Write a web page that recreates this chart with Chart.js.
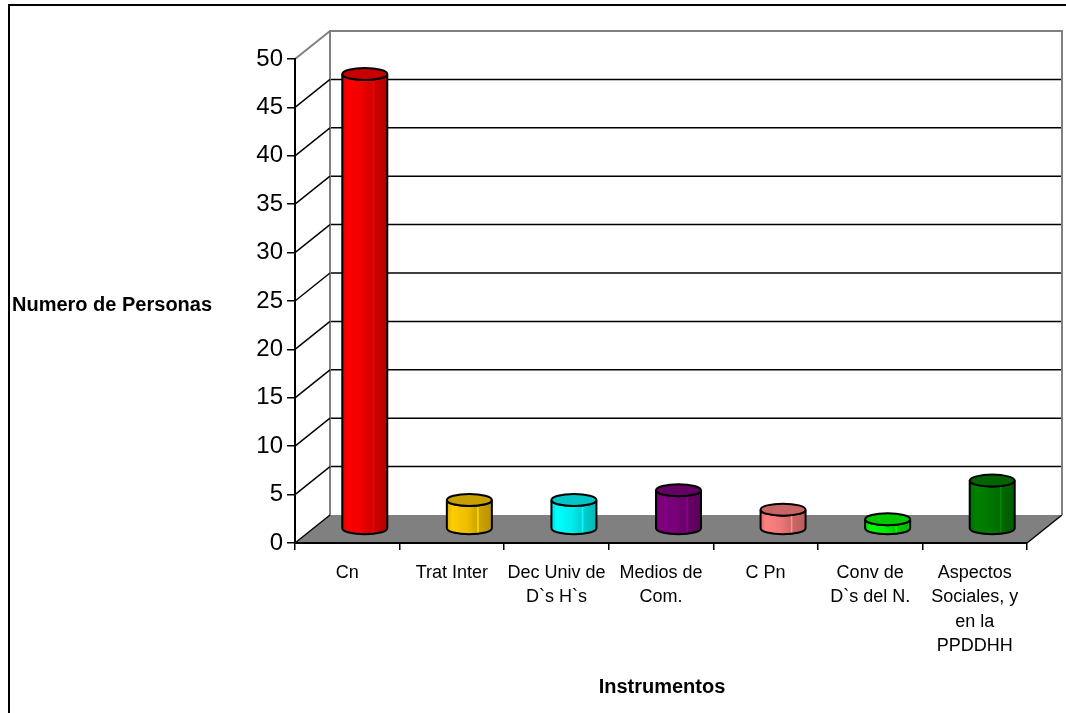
<!DOCTYPE html>
<html>
<head>
<meta charset="utf-8">
<title>Instrumentos</title>
<script src="https://cdn.jsdelivr.net/npm/chart.js@4.4.0/dist/chart.umd.min.js"></script>
<style>
    html, body { margin: 0; padding: 0; background: #fff; }
    #wrap { width: 1066px; height: 713px; }
</style>
</head>
<body>
<div id="wrap"><canvas id="myChart" width="1066" height="713"></canvas></div>
<script>
// categories and values
const categories = [
    'Cn',
    'Trat Inter',
    ['Dec Univ de', 'D`s H`s'],
    ['Medios de', 'Com.'],
    'C Pn',
    ['Conv de', 'D`s del N.'],
    ['Aspectos', 'Sociales, y', 'en la', 'PPDDHH']
];
const personas = [47, 3, 3, 4, 2, 1, 5];
const yTicks = [0, 5, 10, 15, 20, 25, 30, 35, 40, 45, 50];
const barColors = ['#FF0000', '#FFCC00', '#00FFFF', '#800080', '#FF8080', '#00FF00', '#008000'];

const yTitle = 'Numero de Personas';
const xTitle = 'Instrumentos';

// depth of the 3D box
const DX = 35, DY = -28;

function shade(hex, f) {
    const n = parseInt(hex.slice(1), 16);
    const r = Math.min(255, Math.round(((n >> 16) & 255) * f));
    const g = Math.min(255, Math.round(((n >> 8) & 255) * f));
    const b = Math.min(255, Math.round((n & 255) * f));
    return `rgb(${r},${g},${b})`;
}

// back wall, side wall lines and floor
const box3d = {
    id: 'box3d',
    beforeDraw(chart) {
        const ctx = chart.ctx;
        const a = chart.chartArea;
        const y = chart.scales.y;
        ctx.save();
        ctx.fillStyle = '#fff';
        ctx.fillRect(0, 0, chart.width, chart.height);

        const y0 = y.getPixelForValue(0);
        const yTop = y.getPixelForValue(50);

        // back wall grid lines
        ctx.strokeStyle = '#000';
        ctx.lineWidth = 1.5;
        yTicks.forEach(v => {
            if (v === 0 || v === 50) return;
            const py = y.getPixelForValue(v) + DY;
            ctx.beginPath();
            ctx.moveTo(a.left + DX, py);
            ctx.lineTo(a.right + DX, py);
            ctx.stroke();
        });

        // floor
        ctx.fillStyle = '#808080';
        ctx.beginPath();
        ctx.moveTo(a.left, y0);
        ctx.lineTo(a.right, y0);
        ctx.lineTo(a.right + DX, y0 + DY);
        ctx.lineTo(a.left + DX, y0 + DY);
        ctx.closePath();
        ctx.fill();
        ctx.beginPath();
        ctx.moveTo(a.right, y0);
        ctx.lineTo(a.right + DX, y0 + DY);
        ctx.stroke();

        // wall outline
        ctx.strokeStyle = '#808080';
        ctx.lineWidth = 2;
        ctx.beginPath();
        ctx.moveTo(a.left + DX, y0 + DY);
        ctx.lineTo(a.left + DX, yTop + DY);
        ctx.lineTo(a.right + DX, yTop + DY);
        ctx.lineTo(a.right + DX, y0 + DY);
        ctx.stroke();

        // side wall diagonals
        yTicks.forEach(v => {
            const py = y.getPixelForValue(v);
            ctx.strokeStyle = v === 50 ? '#808080' : '#000';
            ctx.lineWidth = v === 50 ? 2 : 1.5;
            ctx.beginPath();
            ctx.moveTo(a.left, py);
            ctx.lineTo(a.left + DX, py + DY);
            ctx.stroke();
        });
        ctx.restore();
    },
    afterDatasetsDraw(chart) {
        const ctx = chart.ctx;
        const meta = chart.getDatasetMeta(0);
        const rx = 22.5, ry = 6;
        ctx.save();
        meta.data.forEach((bar, i) => {
            const col = barColors[i];
            const cx = bar.x + DX / 2;
            const top = bar.y + DY / 2;
            const base = bar.base + DY / 2;

            const grad = ctx.createLinearGradient(cx - rx, 0, cx + rx, 0);
            grad.addColorStop(0, shade(col, 0.85));
            grad.addColorStop(0.12, col);
            grad.addColorStop(0.45, shade(col, 0.93));
            grad.addColorStop(0.66, shade(col, 0.82));
            grad.addColorStop(0.69, shade(col, 1.15));
            grad.addColorStop(0.72, shade(col, 0.8));
            grad.addColorStop(1, shade(col, 0.72));

            ctx.beginPath();
            ctx.moveTo(cx - rx, top);
            ctx.lineTo(cx - rx, base);
            ctx.ellipse(cx, base, rx, ry, 0, Math.PI, 0, true);
            ctx.lineTo(cx + rx, top);
            ctx.ellipse(cx, top, rx, ry, 0, 0, Math.PI, false);
            ctx.closePath();
            ctx.fillStyle = grad;
            ctx.fill();
            ctx.strokeStyle = '#000';
            ctx.lineWidth = 2;
            ctx.stroke();

            ctx.beginPath();
            ctx.ellipse(cx, top, rx, ry, 0, 0, Math.PI * 2);
            ctx.fillStyle = shade(col, 0.78);
            ctx.fill();
            ctx.stroke();
        });
        ctx.restore();
    },
    afterDraw(chart) {
        const ctx = chart.ctx;
        ctx.save();
        ctx.fillStyle = '#000';
        ctx.font = 'bold 20px "Liberation Sans", Arial, sans-serif';
        ctx.textBaseline = 'middle';
        ctx.textAlign = 'left';
        ctx.fillText(yTitle, 12, 305);
        ctx.textAlign = 'center';
        ctx.fillText(xTitle, 662, 687);

        // outer frame
        ctx.strokeStyle = '#000';
        ctx.lineWidth = 2;
        ctx.strokeRect(9, 5, chart.width + 20, chart.height + 20);
        ctx.restore();
    }
};

const ctx = document.getElementById('myChart').getContext('2d');
new Chart(ctx, {
    type: 'bar',
    data: {
        labels: categories,
        datasets: [{
            label: yTitle,
            data: personas,
            backgroundColor: 'rgba(0,0,0,0)',
            borderWidth: 0
        }]
    },
    options: {
        responsive: false,
        animation: false,
        devicePixelRatio: 1,
        layout: { padding: { top: 59, right: 39, left: 0, bottom: 0 } },
        plugins: {
            legend: { display: false },
            tooltip: { enabled: false }
        },
        scales: {
            y: {
                min: 0,
                max: 50,
                afterFit: s => { s.width = 295; },
                afterBuildTicks: s => { s.ticks = yTicks.map(v => ({ value: v })); },
                ticks: {
                    color: '#000',
                    padding: 4,
                    font: { family: '"Liberation Sans", Arial, sans-serif', size: 24 }
                },
                grid: { drawOnChartArea: false, tickLength: 8, color: '#000', lineWidth: 1.5 },
                border: { color: '#000', width: 2 }
            },
            x: {
                afterFit: s => { s.height = 170; },
                ticks: {
                    color: '#000',
                    autoSkip: false,
                    maxRotation: 0,
                    padding: 11,
                    font: { family: '"Liberation Sans", Arial, sans-serif', size: 18, lineHeight: 1.35 }
                },
                grid: { drawOnChartArea: false, offset: true, tickLength: 7, color: '#000', lineWidth: 1.5 },
                border: { color: '#000', width: 2 }
            }
        }
    },
    plugins: [box3d]
});
</script>
</body>
</html>
